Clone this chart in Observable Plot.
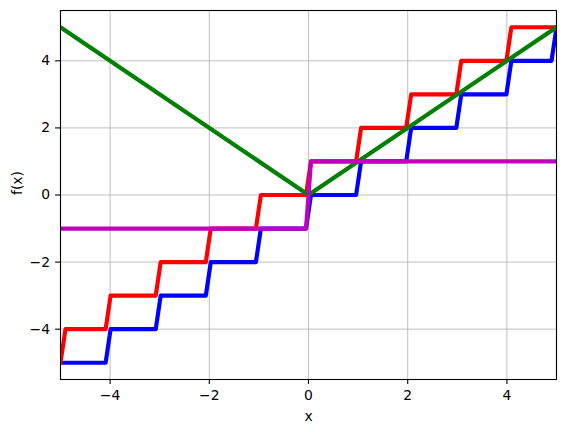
<!DOCTYPE html>
<html>
<head>
<meta charset="utf-8">
<script src="https://cdn.jsdelivr.net/npm/d3@7"></script>
<script src="https://cdn.jsdelivr.net/npm/@observablehq/plot@0.6"></script>
<style>
  html, body { margin: 0; padding: 0; background: #fff; }
  svg { display: block; }
</style>
</head>
<body>
<div id="chart"></div>
<script>
// Vertices of each curve
const floorX = [-5, -4.09, -3.99, -3.08, -2.98, -2.07, -1.97, -1.06, -0.96, -0.05, 0.05, 0.96, 1.06, 1.97, 2.07, 2.98, 3.08, 3.99, 4.09, 4.9, 5];
const floorY = [-5, -5, -4, -4, -3, -3, -2, -2, -1, -1, 0, 0, 1, 1, 2, 2, 3, 3, 4, 4, 5];
const ceilX = [-5, -4.9, -4.09, -3.99, -3.08, -2.98, -2.07, -1.97, -1.06, -0.96, -0.05, 0.05, 0.96, 1.06, 1.97, 2.07, 2.98, 3.08, 3.99, 4.09, 5];
const ceilY = [-5, -4, -4, -3, -3, -2, -2, -1, -1, 0, 0, 1, 1, 2, 2, 3, 3, 4, 4, 5, 5];
const absX = [-5, -0.05, 0.05, 5];
const absY = [5, 0.05, 0.05, 5];
const signX = [-5, -0.05, 0.05, 5];
const signY = [-1, -1, 1, 1];
const xTicks = [-4, -2, 0, 2, 4];
const yTicks = [-4, -2, 0, 2, 4];
const xLabel = "x";
const yLabel = "f(x)";

const toPts = (xs, ys) => xs.map((x, i) => ({x, y: ys[i]}));
const series = [
  {pts: toPts(floorX, floorY), color: "#0000ff"},
  {pts: toPts(ceilX, ceilY), color: "#ff0000"},
  {pts: toPts(absX, absY), color: "#008000"},
  {pts: toPts(signX, signY), color: "#bf00bf"}
];
const fmt = d => (d < 0 ? "\u2212" + Math.abs(d) : String(d));
const font = "DejaVu Sans, sans-serif";

const chart = Plot.plot({
  width: 565,
  height: 432,
  marginLeft: 60,
  marginRight: 9,
  marginTop: 10,
  marginBottom: 53,
  style: {fontFamily: font, fontSize: "13.9px", color: "#000", background: "#fff"},
  x: {domain: [-5, 5]},
  y: {domain: [-5.5, 5.5]},
  marks: [
    Plot.gridX(xTicks, {stroke: "#b0b0b0", strokeOpacity: 1, strokeWidth: 0.8}),
    Plot.gridY(yTicks, {stroke: "#b0b0b0", strokeOpacity: 1, strokeWidth: 0.8}),
    ...series.map(s => Plot.line(s.pts, {
      x: "x", y: "y", stroke: s.color, strokeWidth: 4.17,
      strokeLinejoin: "round", strokeLinecap: "square", clip: true
    })),
    Plot.frame({stroke: "#000", strokeWidth: 1.1}),
    Plot.axisX(xTicks, {tickSize: 4.9, tickPadding: 5.5, tickFormat: fmt, label: null, fontSize: 13.9, strokeWidth: 1.1}),
    Plot.axisY(yTicks, {tickSize: 4.9, tickPadding: 5.5, tickFormat: fmt, label: null, fontSize: 13.9, strokeWidth: 1.1}),
    Plot.text([xLabel], {text: d => d, frameAnchor: "bottom", dy: 41, fontSize: 13.9}),
    Plot.text([yLabel], {text: d => d, frameAnchor: "left", dx: -43, rotate: -90, fontSize: 13.9})
  ]
});
document.getElementById("chart").appendChild(chart);
</script>
</body>
</html>
